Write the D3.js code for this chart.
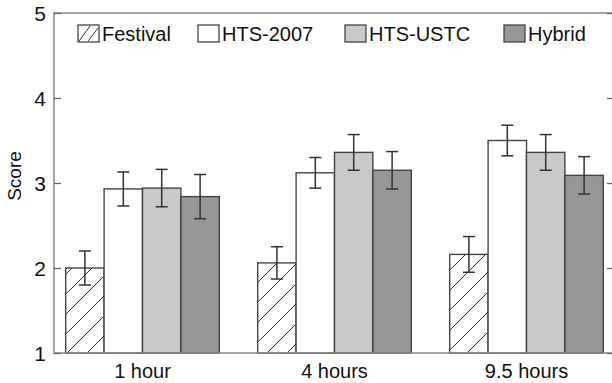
<!DOCTYPE html>
<html>
<head>
<meta charset="utf-8">
<script src="https://cdn.jsdelivr.net/npm/d3@7"></script>
<style>
  body { margin: 0; background: #fff; }
  text { font-family: "Liberation Sans", Arial, Helvetica, sans-serif; fill: #111; }
</style>
</head>
<body>
<div id="chart"></div>
<script>
let categories = ["1 hour", "4 hours", "9.5 hours"];
let series = ["Festival", "HTS-2007", "HTS-USTC", "Hybrid"];
let means = {
  "Festival": [2.0, 2.06, 2.16],
  "HTS-2007": [2.93, 3.12, 3.5],
  "HTS-USTC": [2.94, 3.36, 3.36],
  "Hybrid": [2.84, 3.15, 3.09]
};
let errors = {
  "Festival": [0.2, 0.19, 0.21],
  "HTS-2007": [0.2, 0.18, 0.18],
  "HTS-USTC": [0.22, 0.21, 0.21],
  "Hybrid": [0.26, 0.22, 0.22]
};
let yTicks = [1, 2, 3, 4, 5];

let width = 612;
let height = 383;
let frame = { left: 54, right: 614, top: 13, bottom: 353 };

let fills = { "Festival": "url(#hatch)", "HTS-2007": "#ffffff", "HTS-USTC": "#c9c9c9", "Hybrid": "#979797" };

let data = [];
categories.forEach((c, i) => {
  series.forEach(s => {
    data.push({ cat: c, series: s, value: means[s][i], err: errors[s][i] });
  });
});

let x0 = d3.scaleBand()
  .domain(categories)
  .range([46.5, 622.5])
  .paddingInner(0.2)
  .paddingOuter(0.1);

let x1 = d3.scaleBand()
  .domain(series)
  .range([0, x0.bandwidth()]);

let y = d3.scaleLinear()
  .domain([1, 5])
  .range([frame.bottom, frame.top]);

const svg = d3.select("#chart").append("svg")
  .attr("width", width)
  .attr("height", height);

// hatch pattern for Festival
const defs = svg.append("defs");
defs.append("pattern")
  .attr("id", "hatch")
  .attr("patternUnits", "userSpaceOnUse")
  .attr("width", 20)
  .attr("height", 20)
  .call(p => {
    p.append("rect").attr("width", 20).attr("height", 20).attr("fill", "#fff");
    p.append("path").attr("d", "M-5,25 L25,-5 M-5,5 L5,-5 M15,25 L25,15")
      .attr("stroke", "#333").attr("stroke-width", 1);
  });

// bars
const bars = svg.append("g");
bars.selectAll("rect")
  .data(data)
  .enter()
  .append("rect")
  .attr("x", d => x0(d.cat) + x1(d.series))
  .attr("y", d => y(d.value))
  .attr("width", x1.bandwidth())
  .attr("height", d => y(1) - y(d.value))
  .attr("fill", d => fills[d.series])
  .attr("stroke", "#444")
  .attr("stroke-width", 1.4);

// error bars
const capW = 12;
const eb = svg.append("g").attr("stroke", "#333").attr("stroke-width", 1.5);
data.forEach(d => {
  let cx = x0(d.cat) + x1(d.series) + x1.bandwidth() / 2;
  let hi = y(d.value + d.err), lo = y(d.value - d.err);
  eb.append("line").attr("x1", cx).attr("x2", cx).attr("y1", hi).attr("y2", lo);
  eb.append("line").attr("x1", cx - capW / 2).attr("x2", cx + capW / 2).attr("y1", hi).attr("y2", hi);
  eb.append("line").attr("x1", cx - capW / 2).attr("x2", cx + capW / 2).attr("y1", lo).attr("y2", lo);
});

// frame
svg.append("rect")
  .attr("x", frame.left)
  .attr("y", frame.top)
  .attr("width", frame.right - frame.left)
  .attr("height", frame.bottom - frame.top)
  .attr("fill", "none")
  .attr("stroke", "#888")
  .attr("stroke-width", 1.5);

// y axis (ticks inward)
let axisL = d3.axisRight(y).tickValues(yTicks).tickSize(7).tickFormat("");
svg.append("g")
  .attr("transform", `translate(${frame.left},0)`)
  .call(axisL)
  .call(g => g.select(".domain").remove())
  .call(g => g.selectAll("line").attr("stroke", "#666").attr("stroke-width", 1.3));

let axisR = d3.axisLeft(y).tickValues(yTicks).tickSize(7).tickFormat("");
svg.append("g")
  .attr("transform", `translate(${frame.right},0)`)
  .call(axisR)
  .call(g => g.select(".domain").remove())
  .call(g => g.selectAll("line").attr("stroke", "#666").attr("stroke-width", 1.3));

svg.append("g")
  .selectAll("text")
  .data(yTicks)
  .enter()
  .append("text")
  .attr("x", frame.left - 8)
  .attr("y", d => y(d))
  .attr("dy", "0.36em")
  .attr("text-anchor", "end")
  .style("font-size", "21px")
  .text(d => d);

// x labels
svg.append("g")
  .selectAll("text")
  .data(categories)
  .enter()
  .append("text")
  .attr("x", d => x0(d) + x0.bandwidth() / 2)
  .attr("y", 378)
  .attr("text-anchor", "middle")
  .style("font-size", "20px")
  .text(d => d);

// y label
svg.append("text")
  .attr("transform", `translate(21,176) rotate(-90)`)
  .attr("text-anchor", "middle")
  .style("font-size", "19px")
  .text("Score");

// legend
let legendX = [78, 198, 345, 504];
const legend = svg.append("g");
series.forEach((s, i) => {
  let g = legend.append("g").attr("transform", `translate(${legendX[i]},25)`);
  g.append("rect")
    .attr("width", 21).attr("height", 17)
    .attr("fill", s === "Festival" ? "#fff" : fills[s])
    .attr("stroke", "#444").attr("stroke-width", 1.3);
  if (s === "Festival") {
    g.append("path").attr("d", "M1,16 L12,1 M10,16 L20,3")
      .attr("stroke", "#333").attr("stroke-width", 1).attr("fill", "none");
  }
  g.append("text")
    .attr("x", 24)
    .attr("y", 16)
    .style("font-size", "20px")
    .text(s);
});
</script>
</body>
</html>
